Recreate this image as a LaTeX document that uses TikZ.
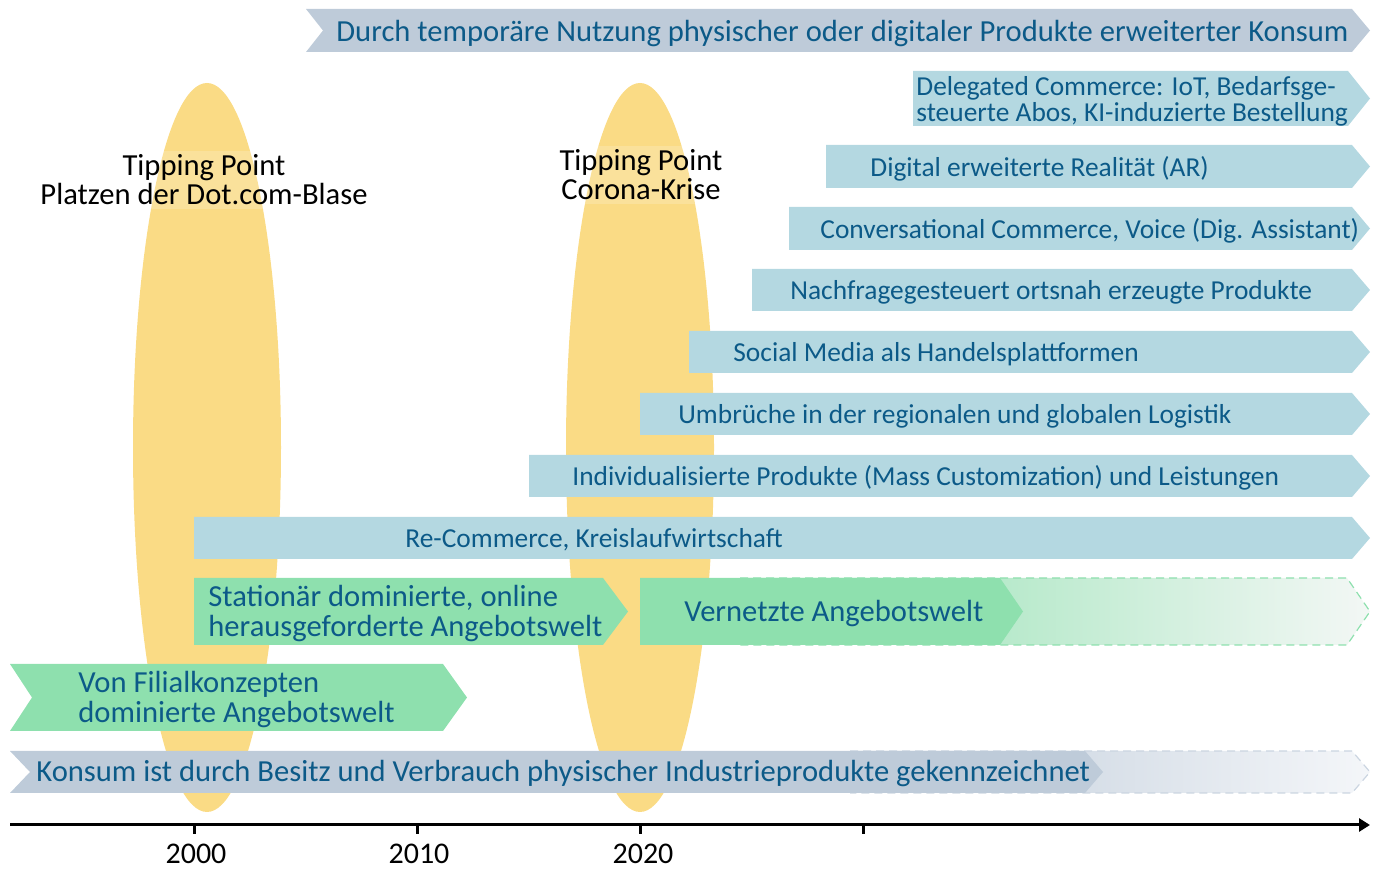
\documentclass[tikz,border=0pt]{standalone}
\usepackage{fontspec}
\setmainfont{Carlito}
\usetikzlibrary{arrows.meta}
\definecolor{bgrey}{RGB}{190,203,217}
\definecolor{bgreyfade}{RGB}{244,246,249}
\definecolor{lblue}{RGB}{180,216,225}
\definecolor{lgreen}{RGB}{142,224,174}
\definecolor{lgreenfade}{RGB}{243,247,245}
\definecolor{tblue}{RGB}{12,90,136}
\definecolor{tipyellow}{RGB}{250,219,133}
\newcommand\pentbar[6]{\fill[#1] (#2,#4) -- ({#3-#6},#4) -- (#3,{(#4+#5)/2}) -- ({#3-#6},#5) -- (#2,#5) -- cycle;}
\newcommand\chevbar[7]{\fill[#1] (#2,#4) -- ({#3-#6},#4) -- (#3,{(#4+#5)/2}) -- ({#3-#6},#5) -- (#2,#5) -- ({#2+#7},{(#4+#5)/2}) -- cycle;}
\newcommand\fadebar[8]{\shade[left color=#1,right color=#2] (#3,#5) -- ({#4-#7},#5) -- (#4,{(#5+#6)/2}) -- ({#4-#7},#6) -- (#3,#6) -- cycle;
 \draw[#8,dashed,line width=0.6pt,dash pattern=on 4pt off 2.5pt] (#3,#5) -- ({#4-#7},#5) -- (#4,{(#5+#6)/2}) -- ({#4-#7},#6) -- (#3,#6);}
\begin{document}
\begin{tikzpicture}[x=0.5pt,y=-0.5pt,
  bartext/.style={text=tblue,font=\fontsize{13.7pt}{13.7pt}\selectfont,anchor=west,inner sep=0pt},
  bigtext/.style={text=tblue,font=\fontsize{15.3pt}{15pt}\selectfont,anchor=west,inner sep=0pt,align=left},
  tiptext/.style={text=black,font=\fontsize{15.3pt}{14.5pt}\selectfont,align=center,fill=white,fill opacity=0.18,text opacity=1,inner sep=2pt},
  yeartext/.style={text=black,font=\fontsize{15pt}{15pt}\selectfont,inner sep=0pt,anchor=base}]
\useasboundingbox (0,0) rectangle (1378,870);
% tipping point ellipses
\fill[tipyellow] (207,447.5) ellipse [x radius=74, y radius=364.5];
\fill[tipyellow] (640,447.5) ellipse [x radius=74, y radius=364.5];
\node[tiptext] (tip1) at (204,180) {Tipping Point\\Platzen der Dot.com-Blase};
\node[tiptext] (tip2) at (641,175) {Tipping Point\\Corona-Krise};
% top bar
\chevbar{bgrey}{306}{1370}{9}{52}{18}{17}
\node[bigtext] (durch) at (336,34) {Durch temporäre Nutzung physischer oder digitaler Produkte erweiterter Konsum};
% light blue bars
\pentbar{lblue}{913}{1370}{71}{126}{22}
\node[bartext,align=left,font=\fontsize{13.7pt}{13pt}\selectfont] (deleg) at (916,101) {Delegated Commerce: IoT, Bedarfsge-\\steuerte Abos, KI-induzierte Bestellung};
\pentbar{lblue}{826}{1370}{145}{188}{18}
\node[bartext] (ar) at (870,169) {Digital erweiterte Realität (AR)};
\pentbar{lblue}{789}{1370}{207}{250}{18}
\node[bartext] (conv) at (820,231) {Conversational Commerce, Voice (Dig. Assistant)};
\pentbar{lblue}{752}{1370}{269}{311}{18}
\node[bartext] (nach) at (790,292) {Nachfragegesteuert ortsnah erzeugte Produkte};
\pentbar{lblue}{689}{1370}{331}{373}{18}
\node[bartext] (social) at (733,354) {Social Media als Handelsplattformen};
\pentbar{lblue}{640}{1370}{393}{435}{18}
\node[bartext] (umbr) at (678,416) {Umbrüche in der regionalen und globalen Logistik};
\pentbar{lblue}{529}{1370}{455}{497}{18}
\node[bartext] (indiv) at (572,478) {Individualisierte Produkte (Mass Customization) und Leistungen};
\pentbar{lblue}{194}{1370}{517}{559}{18}
\node[bartext] (recom) at (405,540) {Re-Commerce, Kreislaufwirtschaft};
% green bars
\pentbar{lgreen}{194}{628}{578}{645}{25}
\node[bigtext] (stat) at (208,614) {Stationär dominierte, online\\herausgeforderte Angebotswelt};
\fadebar{lgreen}{lgreenfade}{740}{1370}{578}{645}{23}{lgreen}
\pentbar{lgreen}{640}{1023}{578}{645}{23}
\node[bigtext] (vern) at (684,614) {Vernetzte Angebotswelt};
\chevbar{lgreen}{10}{467}{664}{731}{24}{22}
\node[bigtext] (filial) at (78,700) {Von Filialkonzepten\\dominierte Angebotswelt};
% bottom grey bar
\fadebar{bgrey}{bgreyfade}{850}{1370}{751}{793}{18}{bgrey!80}
\chevbar{bgrey}{10}{1103}{751}{793}{18}{20}
\node[bigtext] (konsum) at (36,774) {Konsum ist durch Besitz und Verbrauch physischer Industrieprodukte gekennzeichnet};
% axis
\coordinate (axstart) at (10,825);
\coordinate (axend) at (1370,825);
\draw[line width=1.5pt,-{Triangle[length=5.5pt,width=6.5pt]}] (axstart) -- (axend);
\foreach \xx/\nm in {194/t2000,417/t2010,640/t2020,863/t2030}{
  \coordinate (\nm) at (\xx,825);
  \draw[line width=1.5pt] (\nm) -- ++(0,9);
}
\node[yeartext] (y2000) at (196,864) {2000};
\node[yeartext] (y2010) at (419,864) {2010};
\node[yeartext] (y2020) at (643,864) {2020};
\end{tikzpicture}
\end{document}
